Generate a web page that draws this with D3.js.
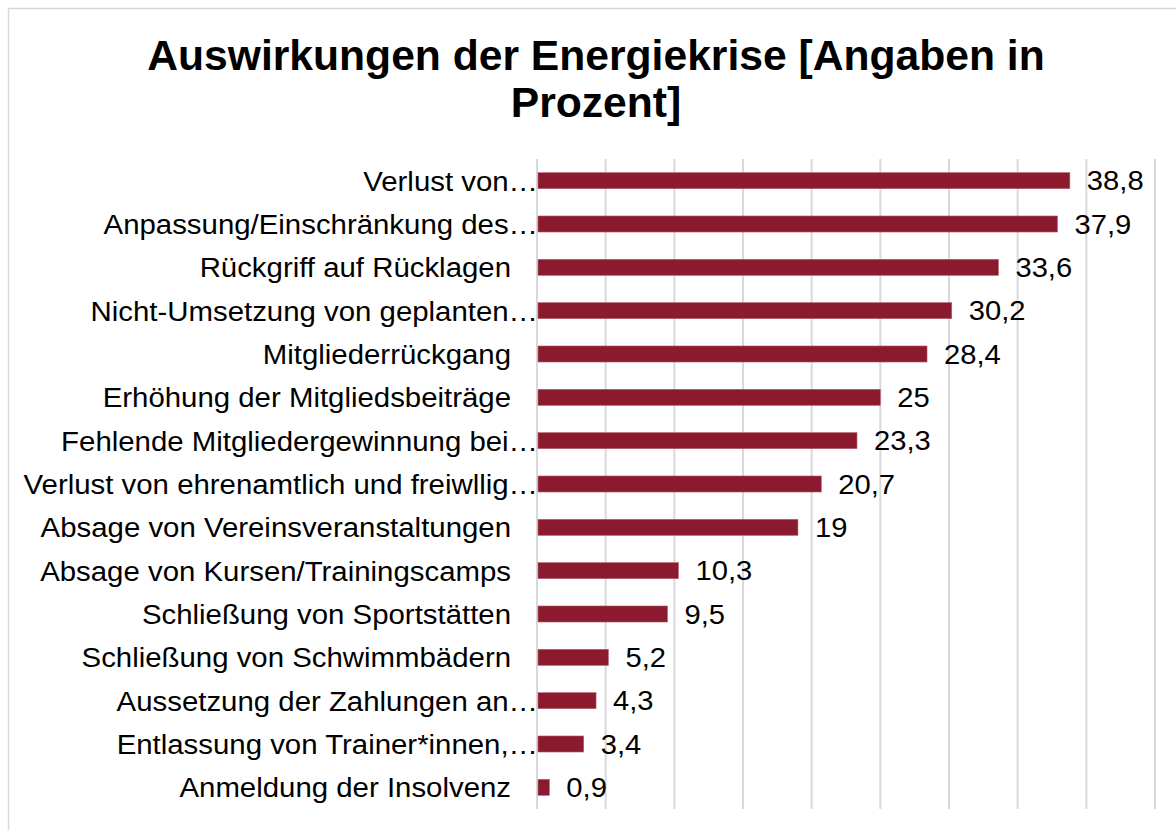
<!DOCTYPE html>
<html>
<head>
<meta charset="utf-8">
<script src="https://cdn.jsdelivr.net/npm/d3@7"></script>
<style>
  body { margin: 0; background: #fff; }
  svg { display: block; font-family: "Liberation Sans", Arial, sans-serif; }
</style>
</head>
<body>
<div id="chart"></div>
<script>
// Categories top to bottom, values in percent
const categories = [
    'Verlust von…',
    'Anpassung/Einschränkung des…',
    'Rückgriff auf Rücklagen',
    'Nicht-Umsetzung von geplanten…',
    'Mitgliederrückgang',
    'Erhöhung der Mitgliedsbeiträge',
    'Fehlende Mitgliedergewinnung bei…',
    'Verlust von ehrenamtlich und freiwllig…',
    'Absage von Vereinsveranstaltungen',
    'Absage von Kursen/Trainingscamps',
    'Schließung von Sportstätten',
    'Schließung von Schwimmbädern',
    'Aussetzung der Zahlungen an…',
    'Entlassung von Trainer*innen,…',
    'Anmeldung der Insolvenz'
];
const values = [38.8, 37.9, 33.6, 30.2, 28.4, 25, 23.3, 20.7, 19, 10.3, 9.5, 5.2, 4.3, 3.4, 0.9];
const xTicks = [0, 5, 10, 15, 20, 25, 30, 35, 40, 45];
const titleLines = ['Auswirkungen der Energiekrise [Angaben in', 'Prozent]'];

const size = { width: 1176, height: 830 };
const plot = { left: 537, right: 1155, top: 159, bottom: 809 };

const data = categories.map((c, i) => ({ label: c, value: values[i] }));

const svg = d3.select('#chart').append('svg')
    .attr('width', size.width)
    .attr('height', size.height);

// chart area border
svg.append('rect')
    .attr('x', 8.5).attr('y', 8.5)
    .attr('width', size.width + 10).attr('height', size.height + 10)
    .attr('fill', 'none')
    .attr('stroke', '#d9d9d9')
    .attr('stroke-width', 1.5);

svg.append('g')
    .selectAll('text')
    .data(titleLines)
    .join('text')
    .attr('transform', (d, i) => `translate(596,${70 + i * 47}) scale(1.015,1)`)
    .attr('text-anchor', 'middle')
    .attr('font-weight', 'bold')
    .attr('font-size', 42)
    .attr('fill', '#000')
    .text(d => d);

const xScale = d3.scaleLinear()
    .domain([0, 45])
    .range([plot.left, plot.right]);

const yScale = d3.scaleBand()
    .domain(categories)
    .range([plot.top, plot.bottom])
    .paddingInner(0.63)
    .paddingOuter(0.315);

// vertical gridlines
svg.append('g')
    .selectAll('line')
    .data(xTicks)
    .join('line')
    .attr('x1', d => xScale(d)).attr('x2', d => xScale(d))
    .attr('y1', plot.top).attr('y2', plot.bottom)
    .attr('stroke', '#d9d9d9')
    .attr('stroke-width', 2);

svg.append('g')
    .selectAll('rect')
    .data(data)
    .join('rect')
    .attr('x', xScale(0) + 1)
    .attr('y', d => yScale(d.label))
    .attr('width', d => xScale(d.value) - xScale(0) - 1)
    .attr('height', yScale.bandwidth())
    .attr('fill', '#8b1a2e')
    .attr('stroke', '#b5606e')
    .attr('stroke-width', 0.6);

const mid = d => yScale(d.label) + yScale.bandwidth() / 2;

// category labels
svg.append('g')
    .selectAll('text')
    .data(data)
    .join('text')
    .attr('transform', d => `translate(${d.label.endsWith('…') ? 538 : 511},${mid(d) + 10}) scale(1.05,1)`)
    .attr('text-anchor', 'end')
    .attr('font-size', 28)
    .attr('fill', '#000')
    .text(d => d.label);

// value labels
svg.append('g')
    .selectAll('text')
    .data(data)
    .join('text')
    .attr('transform', d => `translate(${xScale(d.value) + 17},${mid(d) + 9.5}) scale(1.08,1)`)
    .attr('font-size', 27)
    .attr('fill', '#000')
    .text(d => String(d.value).replace('.', ','));
</script>
</body>
</html>
